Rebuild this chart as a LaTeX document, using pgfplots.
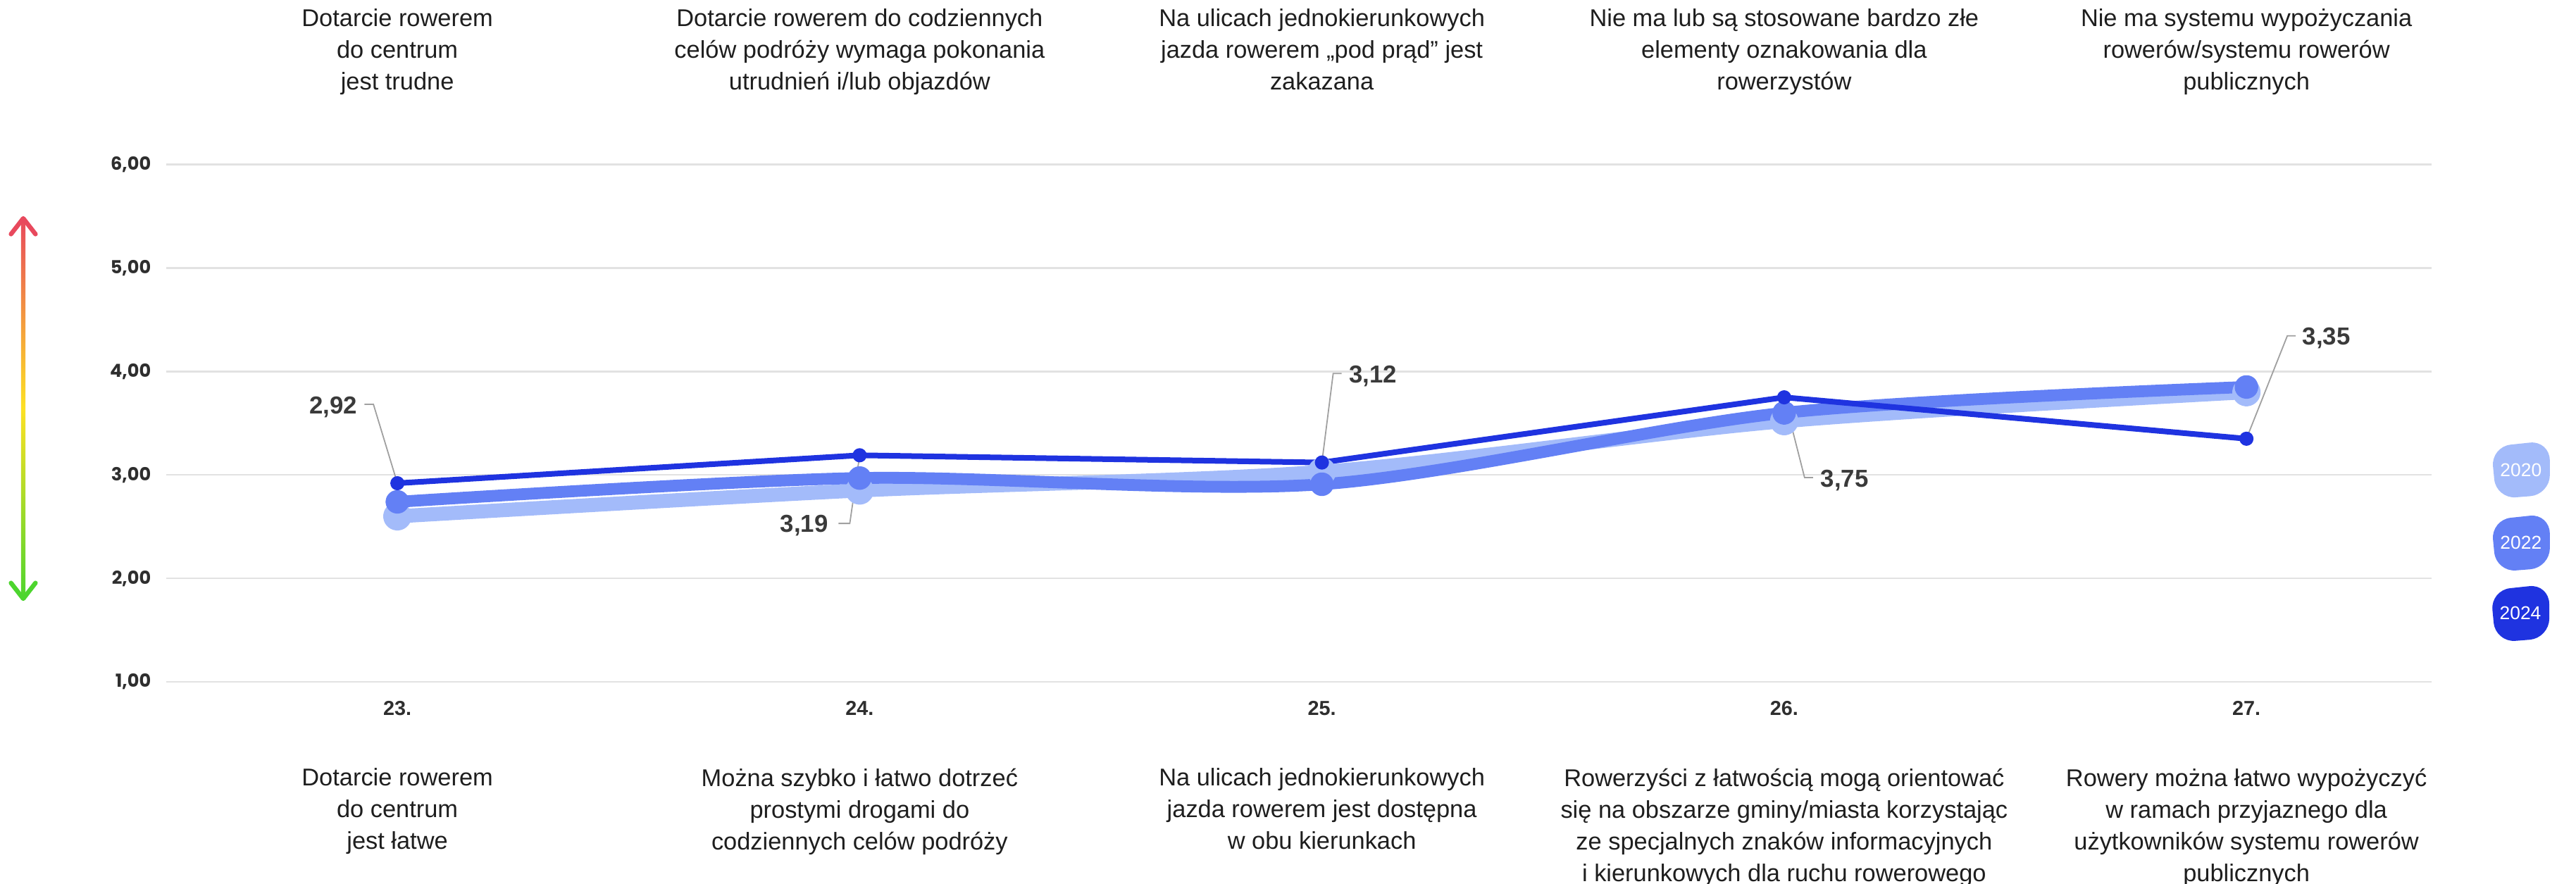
\documentclass[border=0pt]{standalone}
\usepackage{fontspec}
\setmainfont{Liberation Sans}
\newfontfamily\popp{Poppins}
\usepackage{pgfplots}
\pgfplotsset{compat=1.18}
\definecolor{c2020}{HTML}{A3BBFA}
\definecolor{c2022}{HTML}{6380F5}
\definecolor{c2024}{HTML}{1F33E0}
\definecolor{gridgray}{HTML}{E2E2E2}
\definecolor{ticktext}{HTML}{2E2E2E}
\definecolor{cattext}{HTML}{1E1E1E}
\definecolor{labeltext}{HTML}{3A3A3A}
\definecolor{leadergray}{HTML}{A0A0A0}
\definecolor{arrred}{HTML}{E8495D}
\definecolor{arryellow}{HTML}{FDE124}
\definecolor{arrgreen}{HTML}{4DD52E}
\newcommand{\catfont}{\fontsize{8.6}{11.25}\selectfont}
\newcommand{\labfont}{\bfseries\fontsize{8.7}{10}\selectfont}
\newcommand{\blob}[4]{%
  \begin{scope}[shift={(#1,#2)}]
    \fill[#3, rounded corners=7pt] (-10.4pt,8.2pt) -- (10.4pt,10.4pt) -- (10.5pt,-8.8pt) -- (-8.6pt,-10.3pt) -- cycle;
    \node[text=white, font=\fontsize{6.6}{7}\selectfont, inner sep=0pt] at (0.2pt,0pt) {#4};
  \end{scope}}
\begin{document}
\begin{tikzpicture}
\path[use as bounding box] (0,0) rectangle (914.25pt,313.5pt);
% gradient arrow
\shade[top color=arrred, bottom color=arrgreen, middle color=arryellow] (7.45pt,100.8pt) rectangle (9.05pt,236.2pt);
\draw[arrred, line width=1.6pt, line cap=round, line join=round] (3.9pt,230.4pt) -- (8.25pt,236.0pt) -- (12.6pt,230.4pt);
\draw[arrgreen, line width=1.6pt, line cap=round, line join=round] (3.9pt,106.6pt) -- (8.25pt,101.0pt) -- (12.6pt,106.6pt);
% legend blobs
\blob{894.5pt}{146.75pt}{c2020}{2020}
\blob{894.5pt}{120.8pt}{c2022}{2022}
\blob{894.3pt}{95.8pt}{c2024}{2024}
\begin{axis}[
  at={(59pt,71.5pt)}, anchor=south west,
  scale only axis, width=803.9pt, height=183.6pt,
  xmin=22.5, xmax=27.4, ymin=1, ymax=6,
  axis line style={draw=none}, major tick length=0pt,
  xtick={23,24,25,26,27}, xticklabels={23.,24.,25.,26.,27.},
  ytick={1,2,3,4,5,6}, yticklabels={{1,00},{2,00},{3,00},{4,00},{5,00},{6,00}},
  ymajorgrids, grid style={color=gridgray, line width=0.6pt},
  xticklabel style={font=\bfseries\fontsize{7.2}{8}\selectfont, text=ticktext, anchor=base, inner sep=0pt, yshift=-11.75pt},
  yticklabel style={font=\popp\bfseries\fontsize{6.4}{7}\selectfont, text=ticktext, anchor=east, inner sep=0pt, xshift=-5.25pt},
  clip=false,
]
\addplot[c2020, line width=5pt, smooth, line cap=round, line join=round, mark=*, mark size=2.55pt, mark options={solid, fill=c2020, draw=none}]
  coordinates {(23,2.60) (24,2.85) (25,3.03) (26,3.52) (27,3.80)};
\addplot[c2022, line width=4.2pt, smooth, line cap=round, line join=round, mark=*, mark size=2.1pt, mark options={solid, fill=c2022, draw=none}]
  coordinates {(23,2.74) (24,2.97) (25,2.91) (26,3.60) (27,3.85)};
\addplot[c2024, line width=2pt, sharp plot, line cap=round, line join=round, mark=*, mark size=1.5pt, mark options={solid, fill=c2024, draw=none}]
  coordinates {(23,2.92) (24,3.19) (25,3.12) (26,3.75) (27,3.35)};
% data labels with leader lines
\draw[leadergray, line width=0.45pt] (axis cs:23,2.92) -- ++(-8.5pt,28pt) -- ++(-3.2pt,0pt)
  node[anchor=east, inner sep=0pt, xshift=-2.3pt, yshift=-0.9pt, font=\labfont, text=labeltext] {2,92};
\draw[leadergray, line width=0.45pt] (axis cs:24,3.19) -- ++(-3.5pt,-24.2pt) -- ++(-4pt,0pt)
  node[anchor=east, inner sep=0pt, xshift=-3.5pt, yshift=-0.8pt, font=\labfont, text=labeltext] {3,19};
\draw[leadergray, line width=0.45pt] (axis cs:25,3.12) -- ++(4pt,31.6pt) -- ++(3pt,0pt)
  node[anchor=west, inner sep=0pt, xshift=2.5pt, yshift=-1pt, font=\labfont, text=labeltext] {3,12};
\draw[leadergray, line width=0.45pt] (axis cs:26,3.75) -- ++(7.25pt,-28.5pt) -- ++(3pt,0pt)
  node[anchor=west, inner sep=0pt, xshift=2.5pt, yshift=-0.9pt, font=\labfont, text=labeltext] {3,75};
\draw[leadergray, line width=0.45pt] (axis cs:27,3.35) -- ++(14.5pt,36.5pt) -- ++(3pt,0pt)
  node[anchor=west, inner sep=0pt, xshift=2.2pt, yshift=-0.7pt, font=\labfont, text=labeltext] {3,35};
% top category texts
\node[anchor=north, align=center, font=\catfont, text=cattext, inner sep=0pt] at (axis cs:23,7.509) {Dotarcie rowerem\\do centrum\\jest trudne};
\node[anchor=north, align=center, font=\catfont, text=cattext, inner sep=0pt] at (axis cs:24,7.509) {Dotarcie rowerem do codziennych\\celów podróży wymaga pokonania\\utrudnień i/lub objazdów};
\node[anchor=north, align=center, font=\catfont, text=cattext, inner sep=0pt] at (axis cs:25,7.509) {Na ulicach jednokierunkowych\\jazda rowerem „pod prąd” jest\\zakazana};
\node[anchor=north, align=center, font=\catfont, text=cattext, inner sep=0pt] at (axis cs:26,7.509) {Nie ma lub są stosowane bardzo złe\\elementy oznakowania dla\\rowerzystów};
\node[anchor=north, align=center, font=\catfont, text=cattext, inner sep=0pt] at (axis cs:27,7.509) {Nie ma systemu wypożyczania\\rowerów/systemu rowerów\\publicznych};
% bottom category texts
\node[anchor=north, align=center, font=\catfont, text=cattext, inner sep=0pt] at (axis cs:23,0.169) {Dotarcie rowerem\\do centrum\\jest łatwe};
\node[anchor=north, align=center, font=\catfont, text=cattext, inner sep=0pt] at (axis cs:24,0.169) {Można szybko i łatwo dotrzeć\\prostymi drogami do\\codziennych celów podróży};
\node[anchor=north, align=center, font=\catfont, text=cattext, inner sep=0pt] at (axis cs:25,0.169) {Na ulicach jednokierunkowych\\jazda rowerem jest dostępna\\w obu kierunkach};
\node[anchor=north, align=center, font=\catfont, text=cattext, inner sep=0pt] at (axis cs:26,0.169) {Rowerzyści z łatwością mogą orientować\\się na obszarze gminy/miasta korzystając\\ze specjalnych znaków informacyjnych\\i kierunkowych dla ruchu rowerowego};
\node[anchor=north, align=center, font=\catfont, text=cattext, inner sep=0pt] at (axis cs:27,0.169) {Rowery można łatwo wypożyczyć\\w ramach przyjaznego dla\\użytkowników systemu rowerów\\publicznych};
\end{axis}
\end{tikzpicture}
\end{document}
